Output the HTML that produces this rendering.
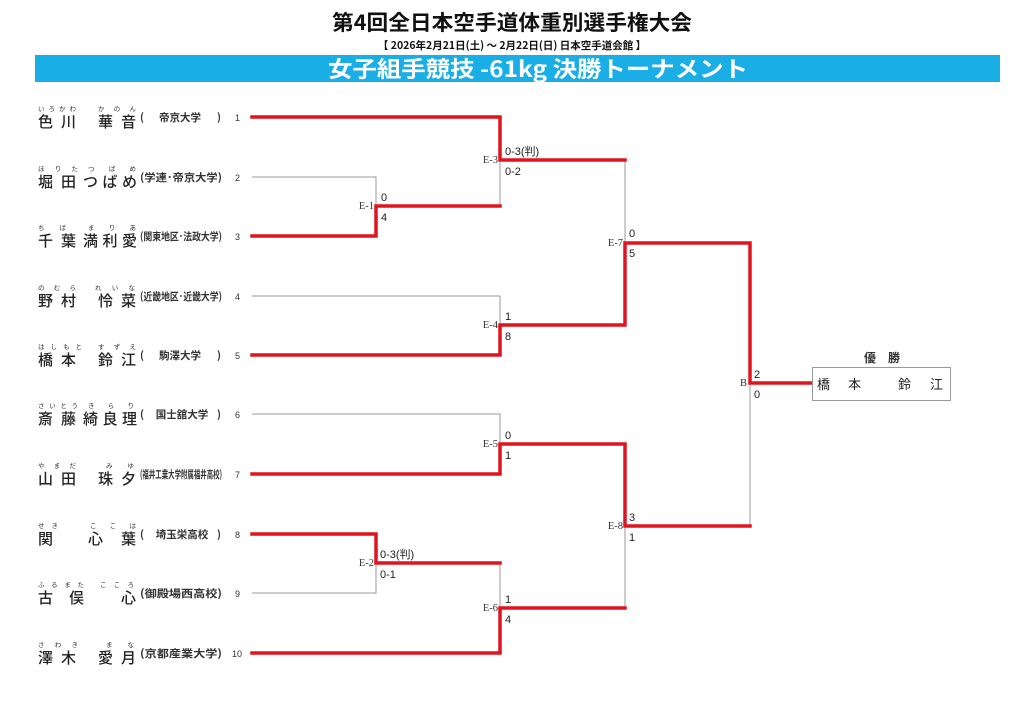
<!DOCTYPE html>
<html><head><meta charset="utf-8">
<style>
html,body{margin:0;padding:0;background:#fff;}
svg{display:block;font-family:"Liberation Sans","Noto Sans CJK JP",sans-serif;}
.nm{font-size:15px;fill:#222;font-family:"Noto Sans CJK JP",sans-serif;font-weight:500;}
.fu{font-size:6.5px;fill:#333;font-family:"Noto Sans CJK JP",sans-serif;}
.af{font-size:10.5px;fill:#333;font-family:"Noto Sans CJK JP",sans-serif;font-weight:bold;}
.no{font-size:9px;fill:#333;}
.sc{font-family:"Liberation Sans","Noto Sans CJK JP",sans-serif;font-size:11px;fill:#222;}
.lb{font-family:"Liberation Serif",serif;font-size:10.5px;fill:#333;}
.g{stroke:#999;stroke-width:1;fill:none;}
.r{stroke:#e0141e;stroke-width:3.5;fill:none;stroke-linejoin:miter;stroke-linecap:square;}
</style></head><body>
<svg width="1024" height="724" viewBox="0 0 1024 724">
<text x="512" y="30" text-anchor="middle" textLength="360" lengthAdjust="spacingAndGlyphs" style="font-family:'Noto Sans CJK JP',sans-serif;font-size:21px;font-weight:bold;fill:#111">第4回全日本空手道体重別選手権大会</text>
<text x="512" y="49" text-anchor="middle" style="font-family:'Noto Sans CJK JP',sans-serif;font-size:10.5px;font-weight:bold;fill:#111">【 2026年2月21日(土) ～ 2月22日(日)  日本空手道会館 】</text>
<rect x="35" y="55" width="965" height="27" fill="#1aaee6"/>
<text x="538" y="77" text-anchor="middle" textLength="420" lengthAdjust="spacingAndGlyphs" style="font-family:'Noto Sans CJK JP',sans-serif;font-size:22px;font-weight:bold;fill:#fff">女子組手競技 -61kg 決勝トーナメント</text>

<g>
<text class="fu" x="38" y="111" textLength="38" lengthAdjust="spacing">いろかわ</text><text class="fu" x="98" y="111" textLength="38" lengthAdjust="spacing">かのん</text>
<text class="nm" x="38" y="127" textLength="38" lengthAdjust="spacing">色川</text><text class="nm" x="98" y="127" textLength="38" lengthAdjust="spacing">華音</text>
<text class="af" x="140" y="121">(</text><text class="af" x="180" y="121" text-anchor="middle">帝京大学</text><text class="af" x="217" y="121">)</text><text class="no" x="235" y="121">1</text>

<text class="fu" x="38" y="171" textLength="40" lengthAdjust="spacing">ほりた</text><text class="fu" x="88" y="171" textLength="48" lengthAdjust="spacing">つばめ</text>
<text class="nm" x="38" y="187" textLength="38" lengthAdjust="spacing">堀田</text><text class="nm" x="83" y="187" textLength="54" lengthAdjust="spacing">つばめ</text>
<text class="af" x="140" y="181" textLength="82" lengthAdjust="spacingAndGlyphs">(学連･帝京大学)</text><text class="no" x="235" y="181">2</text>

<text class="fu" x="38" y="230" textLength="28" lengthAdjust="spacing">ちば</text><text class="fu" x="88" y="230" textLength="48" lengthAdjust="spacing">まりあ</text>
<text class="nm" x="38" y="246" textLength="38" lengthAdjust="spacing">千葉</text><text class="nm" x="83" y="246" textLength="54" lengthAdjust="spacing">満利愛</text>
<text class="af" x="140" y="240" textLength="82" lengthAdjust="spacingAndGlyphs">(関東地区･法政大学)</text><text class="no" x="235" y="240">3</text>

<text class="fu" x="38" y="290" textLength="38" lengthAdjust="spacing">のむら</text><text class="fu" x="95" y="290" textLength="40" lengthAdjust="spacing">れいな</text>
<text class="nm" x="38" y="306" textLength="38" lengthAdjust="spacing">野村</text><text class="nm" x="98" y="306" textLength="38" lengthAdjust="spacing">怜菜</text>
<text class="af" x="140" y="300" textLength="82" lengthAdjust="spacingAndGlyphs">(近畿地区･近畿大学)</text><text class="no" x="235" y="300">4</text>

<text class="fu" x="38" y="349" textLength="44" lengthAdjust="spacing">はしもと</text><text class="fu" x="98" y="349" textLength="38" lengthAdjust="spacing">すずえ</text>
<text class="nm" x="38" y="365" textLength="38" lengthAdjust="spacing">橋本</text><text class="nm" x="98" y="365" textLength="38" lengthAdjust="spacing">鈴江</text>
<text class="af" x="140" y="359">(</text><text class="af" x="180" y="359" text-anchor="middle">駒澤大学</text><text class="af" x="217" y="359">)</text><text class="no" x="235" y="359">5</text>

<text class="fu" x="38" y="408" textLength="40" lengthAdjust="spacing">さいとう</text><text class="fu" x="88" y="408" textLength="46" lengthAdjust="spacing">きらり</text>
<text class="nm" x="38" y="424" textLength="38" lengthAdjust="spacing">斎藤</text><text class="nm" x="83" y="424" textLength="54" lengthAdjust="spacing">綺良理</text>
<text class="af" x="140" y="418">(</text><text class="af" x="182" y="418" text-anchor="middle">国士舘大学</text><text class="af" x="217" y="418">)</text><text class="no" x="235" y="418">6</text>

<text class="fu" x="38" y="468" textLength="38" lengthAdjust="spacing">やまだ</text><text class="fu" x="106" y="468" textLength="28" lengthAdjust="spacing">みゆ</text>
<text class="nm" x="38" y="484" textLength="38" lengthAdjust="spacing">山田</text><text class="nm" x="98" y="484" textLength="38" lengthAdjust="spacing">珠夕</text>
<text class="af" x="140" y="478" textLength="82" lengthAdjust="spacingAndGlyphs">(福井工業大学附属福井高校)</text><text class="no" x="235" y="478">7</text>

<text class="fu" x="38" y="528" textLength="20" lengthAdjust="spacing">せき</text><text class="fu" x="90" y="528" textLength="46" lengthAdjust="spacing">ここは</text>
<text class="nm" x="38" y="544">関</text><text class="nm" x="88" y="544" textLength="48" lengthAdjust="spacing">心葉</text>
<text class="af" x="140" y="538">(</text><text class="af" x="182" y="538" text-anchor="middle">埼玉栄高校</text><text class="af" x="217" y="538">)</text><text class="no" x="235" y="538">8</text>

<text class="fu" x="38" y="587" textLength="46" lengthAdjust="spacing">ふるまた</text><text class="fu" x="100" y="587" textLength="34" lengthAdjust="spacing">こころ</text>
<text class="nm" x="38" y="603" textLength="46" lengthAdjust="spacing">古俣</text><text class="nm" x="121" y="603">心</text>
<text class="af" x="140" y="597" textLength="82" lengthAdjust="spacingAndGlyphs">(御殿場西高校)</text><text class="no" x="235" y="597">9</text>

<text class="fu" x="38" y="647" textLength="40" lengthAdjust="spacing">さわき</text><text class="fu" x="106" y="647" textLength="28" lengthAdjust="spacing">まな</text>
<text class="nm" x="38" y="663" textLength="38" lengthAdjust="spacing">澤木</text><text class="nm" x="98" y="663" textLength="38" lengthAdjust="spacing">愛月</text>
<text class="af" x="140" y="657" textLength="82" lengthAdjust="spacingAndGlyphs">(京都産業大学)</text><text class="no" x="232" y="657">10</text>
</g>

<path class="g" d="M252 177H376V206 M500 160V206 M252 296H500V325 M625 160V242 M252 414H500V444 M252 593H376V563 M500 563V608 M625 608V526 M750 526V383"/>
<path class="r" d="M252 117H500V160H625 M252 236H376V206H500 M252 355H500V325H625V243H750V383H812 M252 474H500V444H625V526H750 M252 534H376V563H500 M252 653H500V608H625"/>

<text class="lb" x="374" y="209" text-anchor="end">E-1</text><text class="sc" x="381" y="201">0</text><text class="sc" x="381" y="221">4</text>
<text class="lb" x="374" y="566" text-anchor="end">E-2</text><text class="sc" x="380" y="558">0-3(判)</text><text class="sc" x="380" y="578">0-1</text>
<text class="lb" x="498" y="163" text-anchor="end">E-3</text><text class="sc" x="505" y="155">0-3(判)</text><text class="sc" x="505" y="175">0-2</text>
<text class="lb" x="498" y="328" text-anchor="end">E-4</text><text class="sc" x="505" y="320">1</text><text class="sc" x="505" y="340">8</text>
<text class="lb" x="498" y="447" text-anchor="end">E-5</text><text class="sc" x="505" y="439">0</text><text class="sc" x="505" y="459">1</text>
<text class="lb" x="498" y="611" text-anchor="end">E-6</text><text class="sc" x="505" y="603">1</text><text class="sc" x="505" y="623">4</text>
<text class="lb" x="623" y="246" text-anchor="end">E-7</text><text class="sc" x="629" y="237">0</text><text class="sc" x="629" y="257">5</text>
<text class="lb" x="623" y="529" text-anchor="end">E-8</text><text class="sc" x="629" y="521">3</text><text class="sc" x="629" y="541">1</text>
<text class="lb" x="747" y="386" text-anchor="end">B</text><text class="sc" x="754" y="378">2</text><text class="sc" x="754" y="398">0</text>

<text x="882" y="362" text-anchor="middle" style="font-family:'Noto Sans CJK JP',sans-serif;font-size:12px;font-weight:bold;fill:#333">優　勝</text>
<rect x="812.5" y="367.5" width="138" height="33" fill="#fff" stroke="#999"/>
<text x="817" y="389" style="font-family:'Noto Sans CJK JP',sans-serif;font-size:13px;fill:#222">橋</text>
<text x="848" y="389" style="font-family:'Noto Sans CJK JP',sans-serif;font-size:13px;fill:#222">本</text>
<text x="898" y="389" style="font-family:'Noto Sans CJK JP',sans-serif;font-size:13px;fill:#222">鈴</text>
<text x="930" y="389" style="font-family:'Noto Sans CJK JP',sans-serif;font-size:13px;fill:#222">江</text>
</svg>
</body></html>
